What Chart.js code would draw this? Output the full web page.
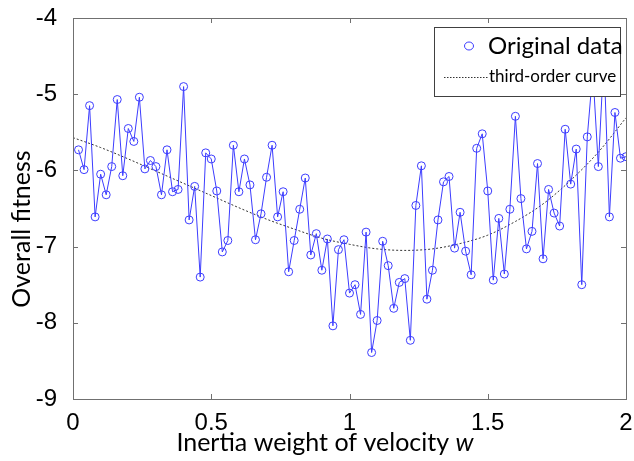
<!DOCTYPE html>
<html>
<head>
<meta charset="utf-8">
<script src="https://cdn.jsdelivr.net/npm/chart.js@4.4.1/dist/chart.umd.min.js"></script>
<style>
  html, body { margin: 0; padding: 0; background: #fff; }
  #wrap { width: 634px; height: 461px; }
</style>
</head>
<body>
<div id="wrap"><canvas id="myChart" width="634" height="461"></canvas></div>
<script>
// inertia weight w (x axis)
let wValues = [0.02, 0.04, 0.06, 0.08, 0.10, 0.12, 0.14, 0.16, 0.18, 0.20,
  0.22, 0.24, 0.26, 0.28, 0.30, 0.32, 0.34, 0.36, 0.38, 0.40,
  0.42, 0.44, 0.46, 0.48, 0.50, 0.52, 0.54, 0.56, 0.58, 0.60,
  0.62, 0.64, 0.66, 0.68, 0.70, 0.72, 0.74, 0.76, 0.78, 0.80,
  0.82, 0.84, 0.86, 0.88, 0.90, 0.92, 0.94, 0.96, 0.98, 1.00,
  1.02, 1.04, 1.06, 1.08, 1.10, 1.12, 1.14, 1.16, 1.18, 1.20,
  1.22, 1.24, 1.26, 1.28, 1.30, 1.32, 1.34, 1.36, 1.38, 1.40,
  1.42, 1.44, 1.46, 1.48, 1.50, 1.52, 1.54, 1.56, 1.58, 1.60,
  1.62, 1.64, 1.66, 1.68, 1.70, 1.72, 1.74, 1.76, 1.78, 1.80,
  1.82, 1.84, 1.86, 1.88, 1.90, 1.92, 1.94, 1.96, 1.98, 2.00]

// overall fitness, original data
let fitness = [-5.73, -5.99, -5.15, -6.61, -6.05, -6.32, -5.95, -5.07, -6.07, -5.45,
  -5.62, -5.04, -5.98, -5.87, -5.95, -6.32, -5.73, -6.28, -6.25, -4.90,
  -6.65, -6.21, -7.40, -5.77, -5.85, -6.27, -7.07, -6.92, -5.67, -6.28,
  -5.85, -6.19, -6.91, -6.57, -6.09, -5.67, -6.61, -6.28, -7.33, -6.92,
  -6.51, -6.10, -7.11, -6.83, -7.31, -6.90, -8.04, -7.04, -6.91, -7.61,
  -7.50, -7.89, -6.81, -8.39, -7.97, -6.93, -7.25, -7.81, -7.47, -7.42,
  -8.23, -6.46, -5.94, -7.69, -7.31, -6.65, -6.15, -6.08, -7.02, -6.55,
  -7.06, -7.37, -5.71, -5.52, -6.27, -7.44, -6.63, -7.36, -6.51, -5.29,
  -6.37, -7.03, -6.80, -5.91, -7.16, -6.25, -6.56, -6.73, -5.46, -6.18,
  -5.72, -7.50, -5.56, -4.70, -5.95, -4.50, -6.61, -5.24, -5.84, -5.82]

// third-order fitted curve
let curveW = [0, 0.1, 0.2, 0.3, 0.4, 0.5, 0.6, 0.7, 0.8, 0.9, 1.0,
  1.1, 1.2, 1.3, 1.4, 1.5, 1.6, 1.7, 1.8, 1.9, 2.0]
let curveFit = [-5.57, -5.70, -5.85, -6.01, -6.17, -6.33, -6.49, -6.64, -6.77, -6.89, -6.97,
  -7.03, -7.05, -7.03, -6.96, -6.85, -6.67, -6.44, -6.13, -5.76, -5.31]

let xTicks = [0, 0.5, 1, 1.5, 2]
let yTicks = [-9, -8, -7, -6, -5, -4]

let blue = 'rgb(60, 60, 255)'
let tickFont = '"Liberation Sans", Arial, sans-serif'
let textFont = 'Lato, "Open Sans", sans-serif'

let boxPlugin = {
  id: 'matlabBox',
  afterDraw(chart) {
    let ctx = chart.ctx
    let a = chart.chartArea
    let xs = chart.scales.x
    let ys = chart.scales.y
    ctx.save()
    ctx.strokeStyle = '#707070'
    ctx.lineWidth = 1
    ctx.strokeRect(Math.round(a.left) + 0.5, Math.round(a.top) + 0.5,
      Math.round(a.right - a.left), Math.round(a.bottom - a.top))
    // inward ticks, like matlab
    ctx.beginPath()
    xTicks.forEach(v => {
      let px = Math.round(xs.getPixelForValue(v)) + 0.5
      ctx.moveTo(px, a.bottom); ctx.lineTo(px, a.bottom - 5)
      ctx.moveTo(px, a.top); ctx.lineTo(px, a.top + 5)
    })
    yTicks.forEach(v => {
      let py = Math.round(ys.getPixelForValue(v)) + 0.5
      ctx.moveTo(a.left, py); ctx.lineTo(a.left + 5, py)
      ctx.moveTo(a.right, py); ctx.lineTo(a.right - 5, py)
    })
    ctx.stroke()

    // axis titles
    ctx.fillStyle = '#000'
    ctx.textBaseline = 'middle'
    let t1 = 'Inertia weight of velocity '
    ctx.font = '25px ' + textFont
    let w1 = ctx.measureText(t1).width
    ctx.font = 'italic 25px ' + textFont
    let w2 = ctx.measureText('w').width
    let sx = 325 - (w1 + w2) / 2
    ctx.font = '25px ' + textFont
    ctx.textAlign = 'left'
    ctx.fillText(t1, sx, 443)
    ctx.font = 'italic 25px ' + textFont
    ctx.fillText('w', sx + w1, 443)

    ctx.save()
    ctx.translate(22, 229)
    ctx.rotate(-Math.PI / 2)
    ctx.textAlign = 'center'
    ctx.font = '25px ' + textFont
    ctx.fillText('Overall fitness', 0, 0)
    ctx.restore()

    // legend
    ctx.fillStyle = '#fff'
    ctx.fillRect(434, 27, 186, 69)
    ctx.strokeStyle = '#404040'
    ctx.strokeRect(434.5, 27.5, 186, 69)
    ctx.strokeStyle = blue
    ctx.beginPath()
    ctx.ellipse(469, 46, 4.5, 4, 0, 0, Math.PI * 2)
    ctx.stroke()
    ctx.fillStyle = '#000'
    ctx.textAlign = 'left'
    ctx.font = '24px ' + textFont
    ctx.fillText('Original data', 488, 46)
    ctx.strokeStyle = '#333'
    ctx.setLineDash([1.5, 1.5])
    ctx.beginPath()
    ctx.moveTo(444, 77.5); ctx.lineTo(488, 77.5)
    ctx.stroke()
    ctx.setLineDash([])
    ctx.font = '17px ' + textFont
    ctx.fillText('third-order curve', 489, 77)
    ctx.restore()
  }
}

let config = {
  type: 'line',
  data: {
    datasets: [{
      label: 'Original data',
      data: wValues.map((w, i) => ({ x: w, y: fitness[i] })),
      borderColor: blue,
      backgroundColor: 'rgba(0,0,0,0)',
      borderWidth: 1,
      pointStyle: 'circle',
      pointRadius: 4,
      pointBorderWidth: 1,
      pointBorderColor: blue,
      tension: 0
    }, {
      label: 'third-order curve',
      data: curveW.map((w, i) => ({ x: w, y: curveFit[i] })),
      borderColor: '#333',
      borderWidth: 1,
      borderDash: [2, 2],
      pointRadius: 0,
      cubicInterpolationMode: 'monotone'
    }]
  },
  options: {
    responsive: false,
    animation: false,
    layout: { padding: { top: 18, right: 8, left: 0, bottom: 0 } },
    plugins: { legend: { display: false }, tooltip: { enabled: false } },
    scales: {
      x: {
        type: 'linear', min: 0, max: 2,
        afterBuildTicks: s => { s.ticks = xTicks.map(v => ({ value: v })) },
        afterFit: s => { s.height = 62; s.paddingLeft = 0; s.paddingRight = 0 },
        grid: { display: false }, border: { display: false },
        ticks: { color: '#000', padding: 2, maxRotation: 0, callback: v => String(v),
          font: { family: tickFont, size: 24 } }
      },
      y: {
        type: 'linear', min: -9, max: -4,
        afterBuildTicks: s => { s.ticks = yTicks.map(v => ({ value: v })) },
        afterFit: s => { s.width = 73; s.paddingTop = 0; s.paddingBottom = 0 },
        grid: { display: false }, border: { display: false },
        ticks: { color: '#000', padding: 8, callback: v => String(v),
          font: { family: tickFont, size: 24 } }
      }
    }
  },
  plugins: [boxPlugin]
}

let myChart = new Chart(document.getElementById('myChart'), config)
</script>
</body>
</html>
